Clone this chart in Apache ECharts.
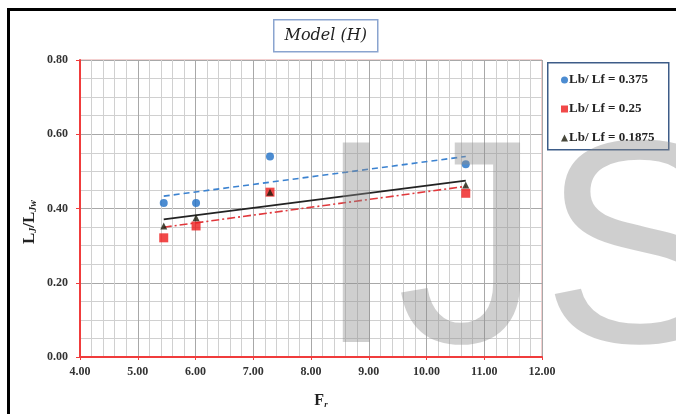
<!DOCTYPE html>
<html>
<head>
<meta charset="utf-8">
<script src="https://cdn.jsdelivr.net/npm/echarts@6/dist/echarts.min.js"></script>
<style>
  html, body { margin: 0; padding: 0; background: #fff; }
  #chart { width: 676px; height: 414px; }
</style>
</head>
<body>
<div id="chart"></div>
<script>
// Froude numbers of the four runs
const froude = [5.45, 6.01, 7.29, 10.68];
// Relative jump length LJ/LJw for each Lb/Lf ratio
const ratio0375 = [0.415, 0.415, 0.540, 0.519];
const ratio025 = [0.321, 0.353, 0.444, 0.441];
const ratio01875 = [0.353, 0.375, 0.444, 0.463];
const seriesNames = ['Lb/ Lf = 0.375', 'Lb/ Lf = 0.25', 'Lb/ Lf = 0.1875'];
const xTicks = { min: 4, max: 12, step: 1 };
const yTicks = { min: 0, max: 0.8, step: 0.2 };

// Least-squares straight line through a group, drawn between its end runs
function trend(xs, ys) {
  const n = xs.length;
  const mx = xs.reduce((a, b) => a + b, 0) / n;
  const my = ys.reduce((a, b) => a + b, 0) / n;
  let sxy = 0, sxx = 0;
  for (let i = 0; i < n; i++) {
    sxy += (xs[i] - mx) * (ys[i] - my);
    sxx += (xs[i] - mx) * (xs[i] - mx);
  }
  const k = sxy / sxx;
  const x0 = Math.min(...xs), x1 = Math.max(...xs);
  return [[x0, my + k * (x0 - mx)], [x1, my + k * (x1 - mx)]];
}
const pairs = ys => froude.map((x, i) => [x, ys[i]]);

const serif = '"Liberation Serif", "DejaVu Serif", serif';
const chart = echarts.init(document.getElementById('chart'), null, { renderer: 'canvas' });

chart.setOption({
  backgroundColor: '#ffffff',
  animation: false,
  grid: {
    left: 80, top: 60, right: 134, bottom: 55,
    show: true, borderColor: '#e8a0a0', borderWidth: 1, backgroundColor: 'transparent'
  },
  legend: {
    orient: 'vertical',
    left: 556, top: 68,
    itemWidth: 7, itemHeight: 7, itemGap: 15,
    data: [
      { name: seriesNames[0], icon: 'circle' },
      { name: seriesNames[1], icon: 'rect' },
      { name: seriesNames[2], icon: 'triangle' }
    ],
    textStyle: { fontFamily: serif, fontWeight: 'bold', fontSize: 13, color: '#222', padding: [0, 0, 0, -4], lineHeight: 14 }
  },
  xAxis: {
    type: 'value',
    min: xTicks.min, max: xTicks.max, interval: xTicks.step,
    name: '{b|F}{s|r}',
    nameLocation: 'middle', nameGap: 36,
    nameTextStyle: {
      padding: [0, 0, 0, 20],
      rich: {
        b: { fontFamily: serif, fontWeight: 'bold', fontSize: 16, color: '#222', verticalAlign: 'bottom' },
        s: { fontFamily: serif, fontWeight: 'bold', fontStyle: 'italic', fontSize: 9, color: '#222', verticalAlign: 'bottom' }
      }
    },
    axisLine: { show: true, onZero: false, lineStyle: { color: '#f03c3c', width: 2 } },
    axisTick: { show: true, length: 3, lineStyle: { color: '#f03c3c' } },
    axisLabel: {
      fontFamily: serif, fontWeight: 'bold', fontSize: 12, color: '#333', margin: 9,
      formatter: v => v.toFixed(2)
    },
    splitLine: { show: true, lineStyle: { color: '#a8a8a8', width: 1 } },
    minorTick: { show: false, splitNumber: 5 },
    minorSplitLine: { show: true, lineStyle: { color: '#d0d0d0', width: 1 } }
  },
  yAxis: {
    type: 'value',
    min: yTicks.min, max: yTicks.max, interval: yTicks.step,
    axisLine: { show: true, onZero: false, lineStyle: { color: '#f03c3c', width: 2 } },
    axisTick: { show: true, length: 4, lineStyle: { color: '#f03c3c' } },
    axisLabel: {
      fontFamily: serif, fontWeight: 'bold', fontSize: 12, color: '#333', margin: 12,
      formatter: v => v.toFixed(2)
    },
    splitLine: { show: true, lineStyle: { color: '#a8a8a8', width: 1 } },
    minorTick: { show: false, splitNumber: 4 },
    minorSplitLine: { show: true, lineStyle: { color: '#d0d0d0', width: 1 } }
  },
  series: [
    {
      name: seriesNames[0], type: 'scatter', data: pairs(ratio0375),
      symbol: 'circle', symbolSize: 8, itemStyle: { color: '#1f6fc6' }, z: 5
    },
    {
      name: seriesNames[1], type: 'scatter', data: pairs(ratio025),
      symbol: 'rect', symbolSize: 9, itemStyle: { color: '#ee1c1c' }, z: 5
    },
    {
      name: seriesNames[2], type: 'scatter', data: pairs(ratio01875),
      symbol: 'triangle', symbolSize: 7, itemStyle: { color: '#1a1a0a' }, z: 6
    },
    {
      type: 'line', data: trend(froude, ratio0375), symbol: 'none', silent: true,
      lineStyle: { color: '#3b82d0', width: 1.6, type: [6, 4] }, z: 4
    },
    {
      type: 'line', data: trend(froude, ratio025), symbol: 'none', silent: true,
      lineStyle: { color: '#e0383c', width: 1.6, type: [8, 3, 2, 3] }, z: 4
    },
    {
      type: 'line', data: trend(froude, ratio01875), symbol: 'none', silent: true,
      lineStyle: { color: '#222222', width: 1.6 }, z: 4
    }
  ],
  graphic: [
    // outer frame
    {
      type: 'rect', left: 6, top: 7, z: 100, silent: true,
      shape: { width: 690, height: 420 },
      style: { fill: 'none', stroke: '#000', lineWidth: 3 }
    },
    // y-axis title, rotated
    {
      type: 'text', x: 30, y: 222, rotation: Math.PI / 2, z: 10,
      style: {
        text: '{b|L}{s|J}{b|/L}{s|Jw}',
        align: 'center', verticalAlign: 'middle',
        rich: {
          b: { font: 'bold 17px "Liberation Serif", serif', fill: '#222', verticalAlign: 'bottom' },
          s: { font: 'italic bold 10px "Liberation Serif", serif', fill: '#222', verticalAlign: 'bottom' }
        }
      }
    },
    // title box
    {
      type: 'group', left: 273, top: 19, z: 10,
      children: [
        {
          type: 'rect', shape: { width: 104, height: 32 },
          style: { fill: '#fff', stroke: '#8aa4cf', lineWidth: 1.5 }
        },
        {
          type: 'text', x: 52, y: 16,
          style: {
            text: 'Model (H)', align: 'center', verticalAlign: 'middle',
            font: 'italic 16px "DejaVu Serif", serif', fill: '#222'
          }
        }
      ]
    },
    // legend frame
    {
      type: 'rect', left: 547, top: 62, z: 1, silent: true,
      shape: { width: 121, height: 87 },
      style: { fill: '#fff', stroke: '#3d5c88', lineWidth: 1.5 }
    },
    // publisher watermark
    {
      type: 'text', left: 316, top: 117, z: 50, silent: true,
      style: {
        text: 'IJS', font: '290px "Liberation Sans", Arial, sans-serif',
        fill: 'rgba(140,140,140,0.42)'
      }
    }
  ]
});
</script>
</body>
</html>
